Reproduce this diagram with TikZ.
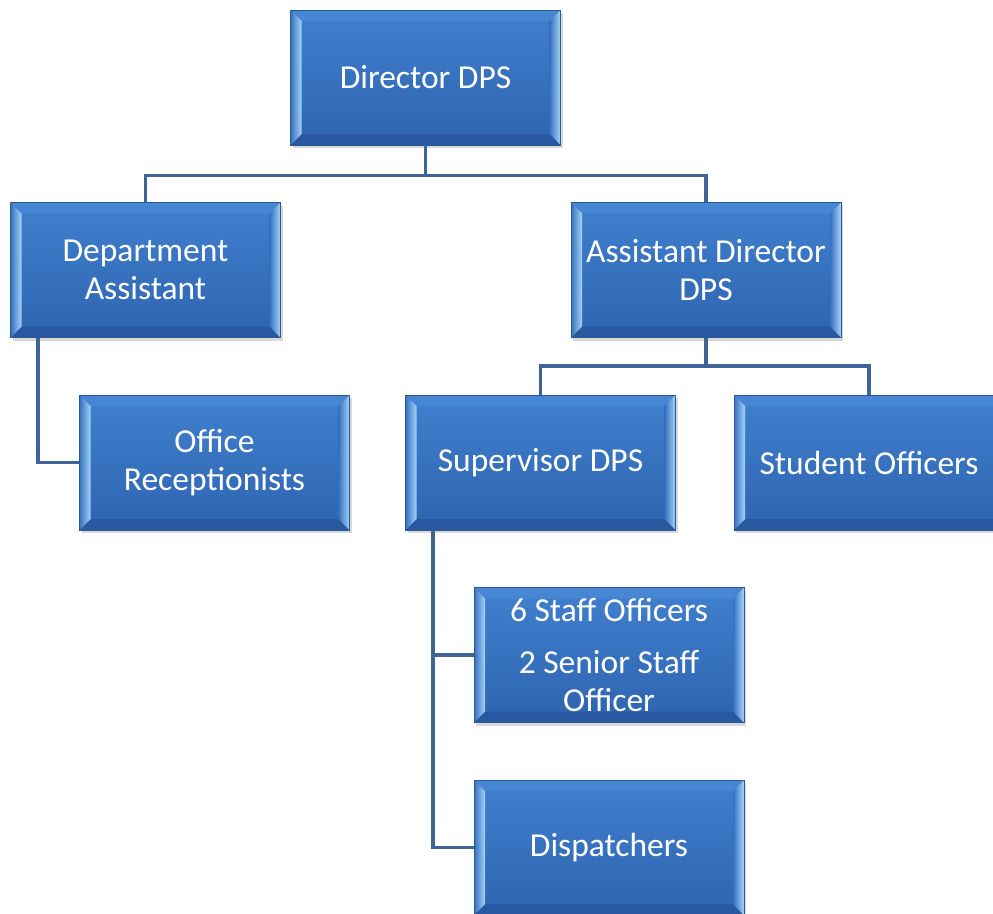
\documentclass[tikz,border=0pt]{standalone}
\usepackage{fontspec}
\setmainfont{Carlito}
\usetikzlibrary{shadows,calc}

\definecolor{boxtop}{RGB}{64,128,206}
\definecolor{boxbot}{RGB}{46,100,176}
\definecolor{boxedge}{RGB}{44,88,152}
\definecolor{bevtop}{RGB}{70,134,210}
\definecolor{bevbot}{RGB}{40,88,160}
\definecolor{bevmid}{RGB}{54,112,190}
\definecolor{bevlight}{RGB}{164,212,248}
\definecolor{linkcol}{RGB}{62,100,152}

\newcommand\bevw{11pt}

\tikzset{
  orgbox/.style={
    rectangle, minimum width=270pt, minimum height=135pt, inner sep=0pt,
    text=white, align=center,
    font=\fontsize{33.5pt}{38pt}\selectfont,
    draw=boxedge, line width=0.8pt,
    top color=boxtop, bottom color=boxbot,
    drop shadow={shadow xshift=2pt, shadow yshift=-3pt, opacity=0.25, fill=black!60},
    path picture={
      \path (path picture bounding box.north west) coordinate (pNW)
            (path picture bounding box.north east) coordinate (pNE)
            (path picture bounding box.south west) coordinate (pSW)
            (path picture bounding box.south east) coordinate (pSE);
      % top and bottom bevels
      \fill[bevtop] (pNW) -- (pNE) -- ([shift={(-\bevw,-\bevw)}]pNE)
                    -- ([shift={(\bevw,-\bevw)}]pNW) -- cycle;
      \fill[bevbot] (pSW) -- (pSE) -- ([shift={(-\bevw,\bevw)}]pSE)
                    -- ([shift={(\bevw,\bevw)}]pSW) -- cycle;
      % side bevels, light towards the right
      \shade[left color=bevmid, middle color=bevmid!55!bevlight, right color=bevlight]
            (pNW) -- ([shift={(\bevw,-\bevw)}]pNW)
            -- ([shift={(\bevw,\bevw)}]pSW) -- (pSW) -- cycle;
      \shade[left color=bevmid, middle color=bevmid!55!bevlight, right color=bevlight]
            (pNE) -- ([shift={(-\bevw,-\bevw)}]pNE)
            -- ([shift={(-\bevw,\bevw)}]pSE) -- (pSE) -- cycle;
    }
  },
  link/.style={draw=linkcol, line width=3.5pt}
}

\begin{document}
\begin{tikzpicture}[x=1pt, y=-1pt]
  \useasboundingbox (0,0) rectangle (993,913);
  \clip (0,0) rectangle (993,913);
  \fill[white] (0,0) rectangle (993,913);

  % boxes
  \node[orgbox] (dir)   at (425.5,77.5) {Director DPS};
  \node[orgbox] (da)    at (145.5,270)  {Department\\Assistant};
  \node[orgbox] (ad)    at (706,270)    {Assistant Director\\DPS};
  \node[orgbox] (orc)   at (214.5,462.5){Office\\Receptionists};
  \node[orgbox] (sup)   at (540.5,462.5){Supervisor DPS};
  \node[orgbox] (stu)   at (869,462.5)  {Student Officers};
  \node[orgbox] (staff) at (609,655)    {6 Staff Officers\\[14pt]2 Senior Staff\\Officer};
  \node[orgbox] (disp)  at (609,847.5)  {Dispatchers};

  % junctions of the horizontal bars
  \coordinate (j1) at ($(dir.south)+(0,30)$);
  \coordinate (j2) at ($(ad.south)+(0,28)$);

  % top level
  \draw[link] (dir.south) -- (j1);
  \draw[link] (j1) -| (da.north);
  \draw[link] (j1) -| (ad.north);
  % assistant director's reports
  \draw[link] (ad.south) -- (j2);
  \draw[link] (j2) -| (sup.north);
  \draw[link] (j2) -| (stu.north);
  % department assistant
  \draw[link] ([xshift=28pt]da.south west) |- (orc.west);
  % supervisor
  \draw[link] ([xshift=28pt]sup.south west) |- (staff.west);
  \draw[link] ([xshift=28pt]sup.south west) |- (disp.west);
\end{tikzpicture}
\end{document}
